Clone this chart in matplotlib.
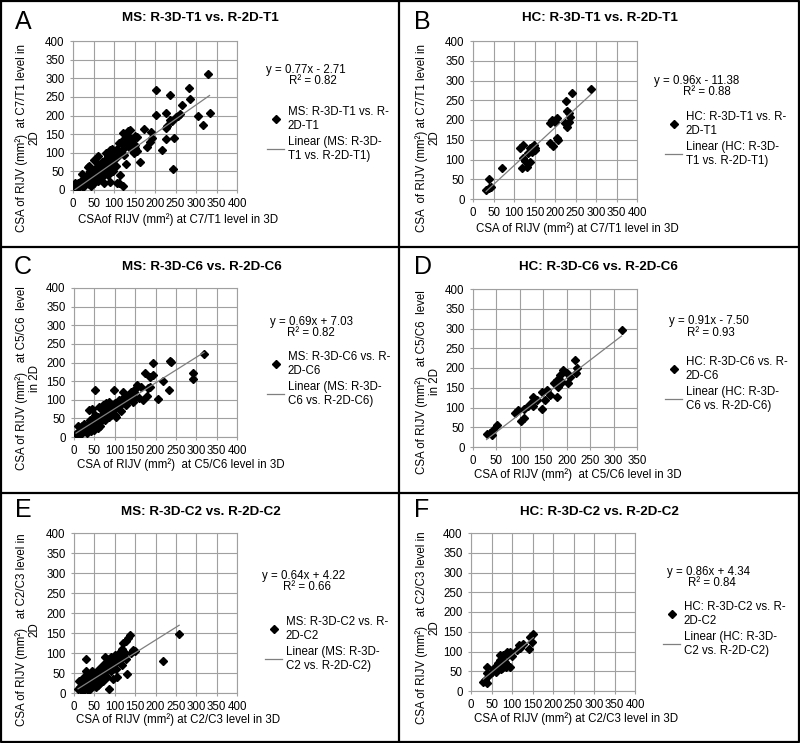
# CSA of RIJV: 3D vs 2D scatter panels (A-F)

import numpy as np
import matplotlib
matplotlib.use('Agg')
import matplotlib.pyplot as plt
from matplotlib.lines import Line2D

plt.rcParams['font.family'] = ['Liberation Sans', 'DejaVu Sans']

# ---- data: (CSA in 3D, CSA in 2D) ----
ms_t1 = [(330, 311), (202, 268), (237, 255), (283, 273), (285, 243), (265, 228), (202, 201),
         (227, 208), (257, 199), (306, 199), (333, 206), (316, 174), (237, 188), (230, 172),
         (228, 167), (247, 139), (226, 136), (218, 107), (243, 56), (172, 165), (190, 157),
         (192, 139), (188, 130), (180, 115), (163, 76), (135, 158), (123, 154), (155, 143),
         (143, 130), (151, 112), (115, 40), (113, 18), (121, 11), (21, 43), (37, 63), (5, 18),
         (90, 107), (250, 195), (260, 205), (242, 185),
         (5, 8), (8, 15), (10, 5), (12, 20), (15, 10), (18, 12), (20, 25), (22, 15), (25, 8),
         (28, 18), (30, 30), (32, 22), (35, 40), (38, 15), (40, 28), (42, 50), (45, 35),
         (45, 10), (48, 42), (50, 20), (52, 55), (55, 30), (55, 60), (58, 45), (60, 50),
         (60, 25), (62, 70), (65, 40), (65, 55), (68, 60), (70, 35), (70, 75), (72, 50),
         (75, 65), (75, 20), (78, 80), (80, 55), (80, 100), (82, 70), (85, 40), (85, 90),
         (88, 75), (90, 60), (90, 22), (92, 85), (95, 100), (95, 70), (98, 50), (100, 80),
         (100, 105), (102, 95), (105, 65), (108, 110), (108, 20), (110, 90), (115, 100),
         (118, 130), (122, 110), (125, 95), (128, 125), (130, 150), (130, 70), (135, 120),
         (138, 140), (140, 160), (142, 110), (145, 130), (148, 100), (150, 145), (152, 120),
         (155, 105), (128, 140), (112, 125), (96, 110), (60, 90), (50, 80), (40, 65)]

hc_t1 = [(288, 278), (242, 268), (226, 249), (229, 224), (233, 217), (237, 208), (192, 200),
         (200, 196), (188, 192), (206, 204), (225, 192), (229, 183), (235, 195), (204, 154),
         (208, 150), (188, 141), (196, 134), (148, 137), (139, 128), (152, 124), (115, 128),
         (123, 137), (135, 116), (143, 120), (147, 125), (145, 132), (150, 130), (122, 103),
         (127, 97), (139, 94), (119, 78), (131, 82), (71, 78), (40, 51), (32, 23), (44, 30),
         (38, 27)]

ms_c6 = [(319, 223), (193, 198), (237, 202), (235, 205), (174, 171), (195, 166), (186, 162),
         (291, 171), (291, 157), (219, 151), (233, 126), (205, 101), (186, 135), (181, 131),
         (52, 126), (98, 126), (121, 122), (154, 140), (150, 130), (140, 120), (165, 135),
         (180, 110), (170, 100), (160, 105), (45, 75), (38, 72),
         (5, 8), (8, 12), (10, 30), (12, 5), (15, 15), (18, 20), (20, 10), (22, 25), (25, 15),
         (28, 30), (30, 20), (32, 10), (35, 35), (38, 25), (40, 45), (42, 15), (45, 30),
         (48, 50), (50, 40), (50, 20), (52, 60), (55, 35), (58, 45), (60, 55), (60, 25),
         (62, 80), (65, 40), (68, 60), (70, 50), (70, 85), (72, 70), (75, 45), (75, 60),
         (78, 90), (80, 65), (82, 75), (85, 55), (85, 95), (88, 80), (90, 70), (92, 60),
         (95, 85), (98, 75), (100, 90), (100, 60), (102, 55), (105, 80), (108, 95), (110, 100),
         (112, 85), (115, 70), (118, 90), (120, 105), (125, 95), (128, 85), (130, 110),
         (135, 100), (140, 115), (145, 95), (148, 120), (150, 105), (65, 30), (55, 55),
         (45, 45), (35, 20), (25, 35), (20, 30)]

hc_c6 = [(317, 297), (218, 220), (221, 199), (220, 187), (207, 178), (193, 195), (200, 187),
         (186, 182), (191, 165), (179, 169), (203, 163), (173, 161), (182, 153), (180, 127),
         (164, 132), (157, 144), (147, 140), (154, 119), (147, 97), (136, 119), (128, 127),
         (125, 115), (129, 103), (118, 104), (108, 97), (97, 94), (90, 87), (108, 73),
         (102, 67), (51, 56), (43, 43), (36, 35), (29, 33), (40, 30)]

ms_c2 = [(258, 147), (219, 80), (137, 145), (132, 138), (128, 130), (120, 125), (29, 84),
         (131, 48), (87, 9), (105, 41), (150, 105), (140, 100), (145, 108), (118, 110),
         (110, 100), (100, 95), (95, 35), (75, 90), (30, 55),
         (10, 10), (12, 30), (15, 15), (18, 8), (20, 20), (22, 5), (25, 25), (28, 12),
         (30, 35), (32, 18), (35, 8), (38, 28), (40, 40), (42, 15), (45, 30), (48, 45),
         (50, 22), (52, 50), (55, 35), (58, 55), (60, 40), (60, 20), (62, 60), (65, 45),
         (68, 65), (70, 50), (70, 30), (72, 70), (75, 55), (78, 75), (80, 60), (80, 40),
         (82, 85), (85, 65), (88, 78), (90, 55), (92, 90), (95, 70), (98, 85), (100, 75),
         (102, 60), (105, 90), (108, 80), (112, 95), (115, 85), (118, 70), (122, 90),
         (125, 100), (128, 85), (65, 25), (55, 15), (45, 55), (35, 45), (25, 40), (40, 10)]

hc_c2 = [(30, 24), (34, 28), (38, 20), (38, 45), (40, 62), (45, 40), (50, 49), (55, 55),
         (59, 62), (62, 48), (65, 70), (67, 66), (70, 90), (71, 78), (72, 55), (75, 58),
         (78, 65), (79, 91), (80, 75), (82, 70), (83, 74), (85, 60), (88, 66), (88, 100),
         (91, 90), (95, 100), (95, 60), (100, 88), (112, 104), (116, 116), (120, 108),
         (128, 120), (142, 106), (144, 137), (148, 125), (152, 144)]

panel_data = [ms_t1, hc_t1, ms_c6, hc_c6, ms_c2, hc_c2]
groups = ['MS', 'HC', 'MS', 'HC', 'MS', 'HC']
levels = ['T1', 'T1', 'C6', 'C6', 'C2', 'C2']
letters = ['A', 'B', 'C', 'D', 'E', 'F']
slopes = [0.77, 0.96, 0.69, 0.91, 0.64, 0.86]
intercepts = [-2.71, -11.38, 7.03, -7.50, 4.22, 4.34]
r2 = [0.82, 0.88, 0.82, 0.93, 0.66, 0.84]
x_max = [400, 400, 400, 350, 400, 400]
xlabels = ['CSAof RIJV (mm²) at C7/T1 level in 3D',
           'CSA of RIJV (mm²) at C7/T1 level in 3D',
           'CSA of RIJV (mm²)  at C5/C6 level in 3D',
           'CSA of RIJV (mm²)  at C5/C6 level in 3D',
           'CSA of RIJV (mm²) at C2/C3 level in 3D',
           'CSA of RIJV (mm²) at C2/C3 level in 3D']
ylabels = ['CSA of RIJV (mm²)  at C7/T1 level in\n2D',
           'CSA  of RIJV (mm²) at C7/T1 level in\n2D',
           'CSA of RIJV (mm²)   at C5/C6  level\nin 2D',
           'CSA of RIJV (mm²)   at C5/C6  level\nin 2D',
           'CSA of RIJV (mm²)   at C2/C3 level in\n2D',
           'CSA of RIJV (mm²)   at C2/C3 level in\n2D']

# ---- layout in pixels (figure is 800 x 743) ----
W, H = 800, 743
axes_px = [(73, 41, 237, 190), (473, 41, 637, 199), (74, 288, 237, 437),
           (473, 289, 637, 447), (74, 533, 237, 693), (471, 533, 635, 691)]
letter_px = [(23, 22), (422, 22), (23, 267), (423, 267), (23, 510), (422, 510)]
title_px = [(200, 18), (600, 18), (202, 267), (598, 267), (201, 512), (599, 512)]
eq1_px = [(306, 70), (697, 81), (311, 322), (709, 321), (304, 576), (709, 572)]
eq2_px = [(313, 81), (707, 92), (311, 333), (711, 333), (307, 587), (712, 583)]
leg_px = [(267, 106), (665, 111), (267, 351), (665, 356), (265, 616), (663, 601)]
xlab_px = [(178, 220), (577, 229), (181, 465), (578, 475), (178, 720), (576, 719)]
ylab_px = [(28, 138), (428, 138), (28, 378), (428, 382), (28, 630), (428, 628)]


def fx(px):
    return px / W


def fy(py):
    return 1 - py / H


fig = plt.figure(figsize=(8, 7.43), dpi=100)
grid_col = '#a0a0a0'
fs = 8.3
ms = 4.4

for i in range(6):
    x0, y0, x1, y1 = axes_px[i]
    ax = fig.add_axes([fx(x0), fy(y1), (x1 - x0) / W, (y1 - y0) / H])
    pts = np.array(panel_data[i], dtype=float)
    ax.plot(pts[:, 0], pts[:, 1], ls='none', marker='D', ms=ms, color='black', zorder=3)
    # trendline over the range of the data
    xs = np.array([pts[:, 0].min(), pts[:, 0].max()])
    ax.plot(xs, slopes[i] * xs + intercepts[i], color='#7f7f7f', lw=0.9, zorder=4)

    ax.set_xlim(0, x_max[i])
    ax.set_ylim(0, 400)
    ax.set_xticks(np.arange(0, x_max[i] + 1, 50))
    ax.set_yticks(np.arange(0, 401, 50))
    ax.grid(True, color=grid_col, lw=0.8)
    ax.set_axisbelow(True)
    for sp in ax.spines.values():
        sp.set_color(grid_col)
        sp.set_linewidth(0.8)
    ax.tick_params(length=2.5, color=grid_col, labelsize=fs, pad=3.5)

    # texts
    fig.text(fx(letter_px[i][0]), fy(letter_px[i][1]), letters[i], fontsize=18,
             ha='center', va='center')
    fig.text(fx(title_px[i][0]), fy(title_px[i][1]),
             f'{groups[i]}: R-3D-{levels[i]} vs. R-2D-{levels[i]}',
             fontsize=9.6, fontweight='bold', ha='center', va='center')
    sign = '+' if intercepts[i] >= 0 else '-'
    fig.text(fx(eq1_px[i][0]), fy(eq1_px[i][1]),
             f'y = {slopes[i]:.2f}x {sign} {abs(intercepts[i]):.2f}',
             fontsize=fs, ha='center', va='center')
    fig.text(fx(eq2_px[i][0]), fy(eq2_px[i][1]), f'R² = {r2[i]:.2f}',
             fontsize=fs, ha='center', va='center')
    fig.text(fx(xlab_px[i][0]), fy(xlab_px[i][1]), xlabels[i], fontsize=fs,
             ha='center', va='center')
    fig.text(fx(ylab_px[i][0]), fy(ylab_px[i][1]), ylabels[i], fontsize=fs,
             ha='center', va='center', rotation=90, linespacing=1.1,
             multialignment='center')

    handles = [Line2D([], [], ls='none', marker='D', ms=ms, color='black'),
               Line2D([], [], color='#7f7f7f', lw=0.9)]
    labels = [f'{groups[i]}: R-3D-{levels[i]} vs. R-\n2D-{levels[i]}',
              f'Linear ({groups[i]}: R-3D-\n{levels[i]} vs. R-2D-{levels[i]})']
    leg = fig.legend(handles, labels, loc='upper left',
                     bbox_to_anchor=(fx(leg_px[i][0]), fy(leg_px[i][1])),
                     bbox_transform=fig.transFigure, frameon=False, fontsize=fs,
                     handlelength=1.5, handletextpad=0.3, borderpad=0,
                     borderaxespad=0, labelspacing=0.35)
    for t in leg.get_texts():
        t.set_linespacing(1.2)

# panel frames
frame_kw = dict(color='black', lw=1.6, transform=fig.transFigure)
fig.add_artist(Line2D([fx(1), fx(799), fx(799), fx(1), fx(1)],
                      [fy(1), fy(1), fy(742), fy(742), fy(1)], **frame_kw))
fig.add_artist(Line2D([fx(399), fx(399)], [fy(0), fy(743)], **frame_kw))
fig.add_artist(Line2D([fx(0), fx(800)], [fy(247), fy(247)], **frame_kw))
fig.add_artist(Line2D([fx(0), fx(800)], [fy(493), fy(493)], **frame_kw))

fig.savefig('out.png', dpi=100)
